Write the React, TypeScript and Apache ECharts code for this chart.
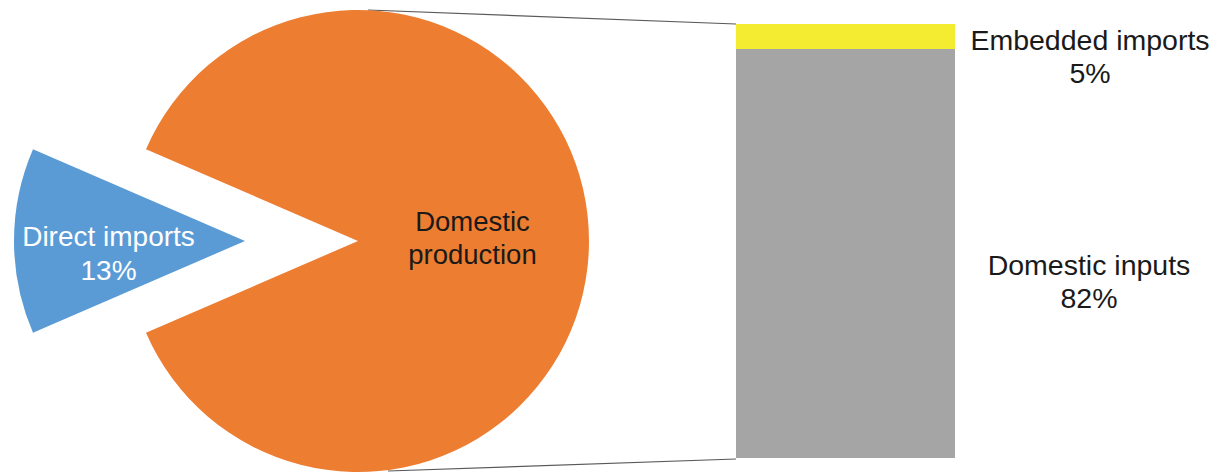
import React, { useEffect, useRef } from "react";
import * as echarts from "echarts";

// ---- Data ----
const pieNames = ["Direct imports", "Domestic production"];
const pieValues = [13, 87];
const pieColors = ["#5B9BD5", "#ED7D31"];

const barCategory = ["Domestic production"];
const barNames = ["Domestic inputs", "Embedded imports"];
const barValues = [82, 5];
const barColors = ["#A5A5A5", "#F4EC30"];
const barLabels = ["Domestic inputs\n82%", "Embedded imports\n5%"];

const FONT = "Liberation Sans, Arial, Helvetica, sans-serif";

export default function App() {
  const ref = useRef<HTMLDivElement>(null);

  useEffect(() => {
    if (!ref.current) return;
    document.body.style.margin = "0";
    document.body.style.overflow = "hidden";
    const chart = echarts.init(ref.current, undefined, { renderer: "svg" });

    const pieCenter = [358, 241];
    const pieR = 231;
    const blueHalf = (pieValues[0] / (pieValues[0] + pieValues[1])) * 180;
    const barTotal = barValues[0] + barValues[1];
    const pieLabelShift = [
      { dx: -18, dy: 12 },
      { dx: -4, dy: -3 },
    ];

    const option: any = {
      animation: false,
      backgroundColor: "#ffffff",
      textStyle: { fontFamily: FONT },
      grid: { left: 736, top: 24, width: 219, height: 434 },
      xAxis: { type: "category", data: barCategory, show: false },
      yAxis: { type: "value", min: 0, max: barTotal, show: false },
      graphic: [
        {
          type: "line",
          shape: { x1: 368, y1: 10, x2: 736, y2: 24 },
          style: { stroke: "#5a5a5a", lineWidth: 1.2 },
          z: 0,
        },
        {
          type: "line",
          shape: { x1: 388, y1: 471, x2: 736, y2: 459 },
          style: { stroke: "#5a5a5a", lineWidth: 1.2 },
          z: 0,
        },
      ],
      series: [
        {
          type: "pie",
          center: pieCenter,
          radius: pieR,
          startAngle: 180 + blueHalf,
          selectedMode: "single",
          selectedOffset: 113,
          avoidLabelOverlap: false,
          emphasis: { disabled: true },
          labelLine: { show: false },
          labelLayout: (p: any) => pieLabelShift[p.dataIndex],
          data: pieNames.map((n, i) => ({
            name: n,
            value: pieValues[i],
            selected: i === 0,
            itemStyle: { color: pieColors[i] },
            label:
              i === 0
                ? {
                    show: true,
                    position: "inside",
                    formatter: "{b}\n{d}%",
                    color: "#ffffff",
                    fontSize: 28,
                    lineHeight: 34,
                    fontFamily: FONT,
                  }
                : {
                    show: true,
                    position: "inside",
                    formatter: "Domestic\nproduction",
                    color: "#1a1a1a",
                    fontSize: 27.5,
                    lineHeight: 33,
                    fontFamily: FONT,
                  },
          })),
        },
        ...barNames.map((n, i) => ({
          type: "bar",
          name: n,
          stack: "total",
          barWidth: "100%",
          barCategoryGap: 0,
          data: [barValues[i]],
          itemStyle: { color: barColors[i] },
          emphasis: { disabled: true },
          label: {
            show: true,
            formatter: barLabels[i],
            position: i === 0 ? [353, 233] : [354, 32],
            align: "center",
            verticalAlign: "middle",
            color: "#1a1a1a",
            fontSize: 28.5,
            lineHeight: 33,
            fontFamily: FONT,
          },
        })),
      ],
    };

    chart.setOption(option);
    return () => chart.dispose();
  }, []);

  return <div ref={ref} style={{ width: 1214, height: 474 }} />;
}
